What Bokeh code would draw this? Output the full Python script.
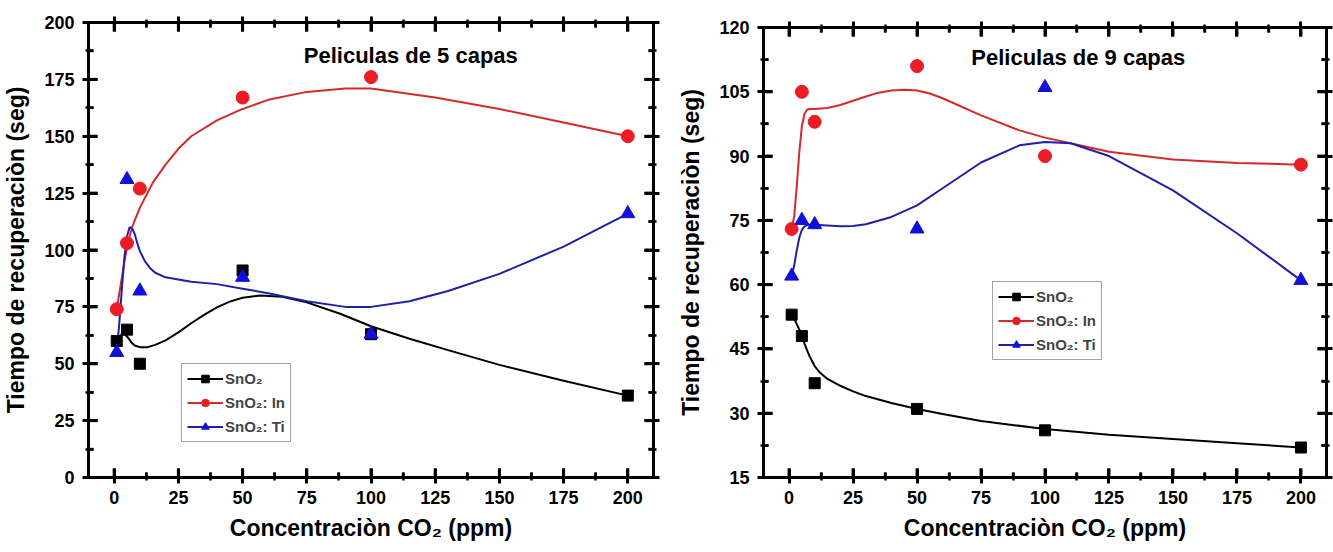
from bokeh.plotting import figure
from bokeh.models import Legend, LegendItem, Label, FixedTicker, Range1d, ColumnDataSource, LinearAxis
from bokeh.layouts import row
from bokeh.embed import file_html
from bokeh.resources import INLINE

# ---------------- data ----------------
conc = [1, 5, 10, 50, 100, 200]

# 5-layer films (measured points)
sno2_5 = [60, 65, 50, 91, 63, 36]
sno2_in_5 = [74, 103, 127, 167, 176, 150]
sno2_ti_5 = [55, 131, 82, 88, 63, 116]

# fitted curves, 5 layers
fit5_x_black = [1, 2, 3, 4, 5, 7, 8, 10, 13, 16, 20, 25, 30, 35, 40, 45, 50, 57, 65, 75, 88, 100, 115, 130, 150, 175, 200]
fit5_y_black = [60, 62, 63, 63, 62, 59, 58, 57.3, 57.3, 58.3, 60.3, 63.8, 67.8, 71.5, 74.8, 77.3, 79, 80, 79.5, 77, 72, 66.5, 61, 56, 49.5, 42.5, 36]
fit5_x_red = [1, 2, 3, 4, 5, 6, 7, 8, 10, 12, 15, 20, 25, 30, 40, 50, 60, 75, 90, 100, 125, 150, 175, 200]
fit5_y_red = [74, 81, 88, 95, 101, 106, 110, 113, 118.5, 123, 129.5, 137.5, 144.5, 150, 157, 162, 166, 169.5, 171, 171, 167, 162, 156, 150]
fit5_x_blue = [1, 2, 3, 4, 5, 6, 7, 8, 9, 10, 12, 14, 16, 20, 25, 30, 40, 50, 60, 75, 90, 100, 115, 130, 150, 175, 200]
fit5_y_blue = [55, 68, 83, 97, 106, 110, 109.5, 107, 103, 99.5, 95, 92, 90, 88, 87, 86, 85, 83, 81, 77.5, 75, 75, 77.5, 82, 89.5, 101.5, 116]

# 9-layer films (measured points)
sno2_9 = [53, 48, 37, 31, 26, 22]
sno2_in_9 = [73, 105, 98, 111, 90, 88]
sno2_ti_9 = [62, 75, 74, 73, 106, 61]

# fitted curves, 9 layers
fit9_x_black = [1, 2, 3, 4, 5, 6, 7, 8, 10, 12, 15, 20, 25, 30, 40, 50, 60, 75, 100, 125, 150, 175, 200]
fit9_y_black = [53, 52, 50.8, 49.5, 48, 46.3, 44.7, 43.3, 41, 39.5, 38, 36.4, 35.1, 34, 32.4, 31, 29.8, 28.2, 26.3, 25, 24, 23, 22]
fit9_x_red = [1, 2, 3, 4, 5, 6, 7, 8, 10, 15, 20, 25, 30, 35, 40, 45, 50, 55, 60, 75, 90, 100, 110, 125, 150, 175, 200]
fit9_y_red = [73, 76, 83, 91, 97, 99.8, 100.8, 101, 101, 101.2, 101.9, 102.9, 103.9, 104.8, 105.3, 105.5, 105.3, 104.6, 103.5, 99.5, 96, 94.3, 93, 91, 89.2, 88.4, 88]
fit9_x_blue = [1, 2, 3, 4, 5, 6, 7, 8, 10, 15, 20, 25, 30, 40, 50, 60, 75, 90, 100, 110, 125, 150, 175, 200]
fit9_y_blue = [62, 64.5, 68, 71, 72.8, 73.6, 73.9, 74, 74, 73.8, 73.6, 73.7, 74.1, 75.8, 78.5, 82.5, 88.5, 92.5, 93.3, 93, 90, 82, 72, 61]

# tick values
x_major = [0, 25, 50, 75, 100, 125, 150, 175, 200]
x_minor = [12.5, 37.5, 62.5, 87.5, 112.5, 137.5, 162.5, 187.5]
y5_major = [0, 25, 50, 75, 100, 125, 150, 175, 200]
y5_minor = [12.5, 37.5, 62.5, 87.5, 112.5, 137.5, 162.5, 187.5]
y9_major = [15, 30, 45, 60, 75, 90, 105, 120]
y9_minor = [22.5, 37.5, 52.5, 67.5, 82.5, 97.5, 112.5]

BLACK = "#000000"
RED = "#ec1c24"
RED_LINE = "#d42a2a"
BLUE = "#1010d8"
BLUE_LINE = "#1f1fa8"
FONT = "Liberation Sans"

X_RANGE = (-10, 210)
MAJOR_LEN = 9   # px
MINOR_LEN = 5   # px


def style_axis(ax, ticks, minor, labels=True):
    ax.ticker = FixedTicker(ticks=ticks, minor_ticks=minor)
    ax.axis_line_width = 3
    ax.axis_line_color = "black"
    ax.major_tick_in = MAJOR_LEN
    ax.major_tick_out = 6
    ax.minor_tick_in = MINOR_LEN
    ax.minor_tick_out = 3
    ax.major_tick_line_width = 3
    ax.minor_tick_line_width = 2.5
    ax.major_tick_line_color = "black"
    ax.minor_tick_line_color = "black"
    ax.major_label_text_font = FONT
    ax.major_label_text_font_style = "bold"
    ax.major_label_text_font_size = "18px"
    ax.major_label_text_color = "black"
    ax.axis_label_text_font = FONT
    ax.axis_label_text_font_style = "bold"
    ax.axis_label_text_font_size = "23px"
    ax.axis_label_text_color = "black"
    if not labels:
        ax.major_label_text_font_size = "0px"
        ax.major_label_text_alpha = 0
        ax.major_label_standoff = 0
        ax.axis_label = None


def add_ticks(p, yr, y_major, y_minor, frame_w, frame_h):
    # inward ticks on all four sides, lengths converted from pixels to data units
    ppx = (X_RANGE[1] - X_RANGE[0]) / frame_w
    ppy = (yr[1] - yr[0]) / frame_h
    x0, x1, y0, y1, w = [], [], [], [], []
    for xs, L, lw in ((x_major, MAJOR_LEN, 3), (x_minor, MINOR_LEN, 2.5)):
        for xv in xs:
            x0 += [xv, xv]
            x1 += [xv, xv]
            y0 += [yr[0], yr[1]]
            y1 += [yr[0] + L * ppy, yr[1] - L * ppy]
            w += [lw, lw]
    for ys, L, lw in ((y_major, MAJOR_LEN, 3), (y_minor, MINOR_LEN, 2.5)):
        for yv in ys:
            x0 += [X_RANGE[0], X_RANGE[1]]
            x1 += [X_RANGE[0] + L * ppx, X_RANGE[1] - L * ppx]
            y0 += [yv, yv]
            y1 += [yv, yv]
            w += [lw, lw]
    src = ColumnDataSource(dict(x0=x0, x1=x1, y0=y0, y1=y1, w=w))
    p.segment(x0="x0", y0="y0", x1="x1", y1="y1", line_width="w", line_color="black",
              source=src, level="overlay")


def make_panel(frame_w, frame_h, yr, y_major, y_minor, border_left, border_right,
               s_y, in_y, ti_y, fb, fr, fbl, title, title_xy, legend_loc, top_margin):
    p = figure(frame_width=frame_w, frame_height=frame_h, output_backend="svg", toolbar_location=None,
               x_range=Range1d(*X_RANGE), y_range=Range1d(*yr),
               min_border_left=border_left, min_border_right=border_right,
               min_border_top=22, min_border_bottom=40,
               x_axis_label="Concentraciòn CO₂ (ppm)",
               y_axis_label="Tiempo de recuperaciòn (seg)")
    p.margin = (top_margin, 0, 0, 0)
    p.grid.visible = False
    p.outline_line_color = "black"
    p.outline_line_width = 3
    p.outline_line_alpha = 1
    style_axis(p.xaxis[0], x_major, x_minor)
    style_axis(p.yaxis[0], y_major, y_minor)
    p.xaxis[0].axis_label_standoff = 8
    p.yaxis[0].axis_label_standoff = 12
    p.xaxis[0].major_label_standoff = 7
    p.yaxis[0].major_label_standoff = 8

    top = LinearAxis()
    style_axis(top, x_major, x_minor, labels=False)
    right = LinearAxis()
    style_axis(right, y_major, y_minor, labels=False)
    p.add_layout(top, "above")
    p.add_layout(right, "right")

    add_ticks(p, yr, y_major, y_minor, frame_w, frame_h)

    lb = p.line(fb[0], fb[1], line_color=BLACK, line_width=2)
    lr = p.line(fr[0], fr[1], line_color=RED_LINE, line_width=2)
    lbl = p.line(fbl[0], fbl[1], line_color=BLUE_LINE, line_width=2)

    sb = p.scatter(conc, s_y, marker="square", size=11, color=BLACK)
    sr = p.scatter(conc, in_y, marker="circle", size=13, color=RED)
    st = p.scatter(conc, ti_y, marker="triangle", size=14, color=BLUE)

    legend = Legend(items=[
        LegendItem(label="SnO₂", renderers=[lb, sb]),
        LegendItem(label="SnO₂: In", renderers=[lr, sr]),
        LegendItem(label="SnO₂: Ti", renderers=[lbl, st]),
    ], location=legend_loc)
    legend.label_text_font = FONT
    legend.label_text_font_style = "bold"
    legend.label_text_font_size = "15px"
    legend.label_standoff = 2
    legend.label_height = 19
    legend.glyph_width = 36
    legend.glyph_height = 19
    legend.spacing = 5
    legend.padding = 5
    legend.margin = 0
    legend.border_line_color = "#444444"
    legend.border_line_width = 1
    legend.background_fill_alpha = 1
    p.add_layout(legend, "center")

    p.add_layout(Label(x=title_xy[0], y=title_xy[1], text=title, text_align="center",
                       text_baseline="middle", text_font=FONT, text_font_style="bold",
                       text_font_size="22px", text_color="black"))
    return p


p1 = make_panel(565, 455, (0, 200), y5_major, y5_minor, 85, 12,
                sno2_5, sno2_in_5, sno2_ti_5,
                (fit5_x_black, fit5_y_black), (fit5_x_red, fit5_y_red), (fit5_x_blue, fit5_y_blue),
                "Peliculas de 5 capas", (115.5, 185.5), (93, 35), 0)
p2 = make_panel(563, 450, (15, 120), y9_major, y9_minor, 98, 9,
                sno2_9, sno2_in_9, sno2_ti_9,
                (fit9_x_black, fit9_y_black), (fit9_x_red, fit9_y_red), (fit9_x_blue, fit9_y_blue),
                "Peliculas de 9 capas", (113, 113), (229, 117), 5)

layout = row(p1, p2)
open("out.html", "w").write(file_html(layout, INLINE))
